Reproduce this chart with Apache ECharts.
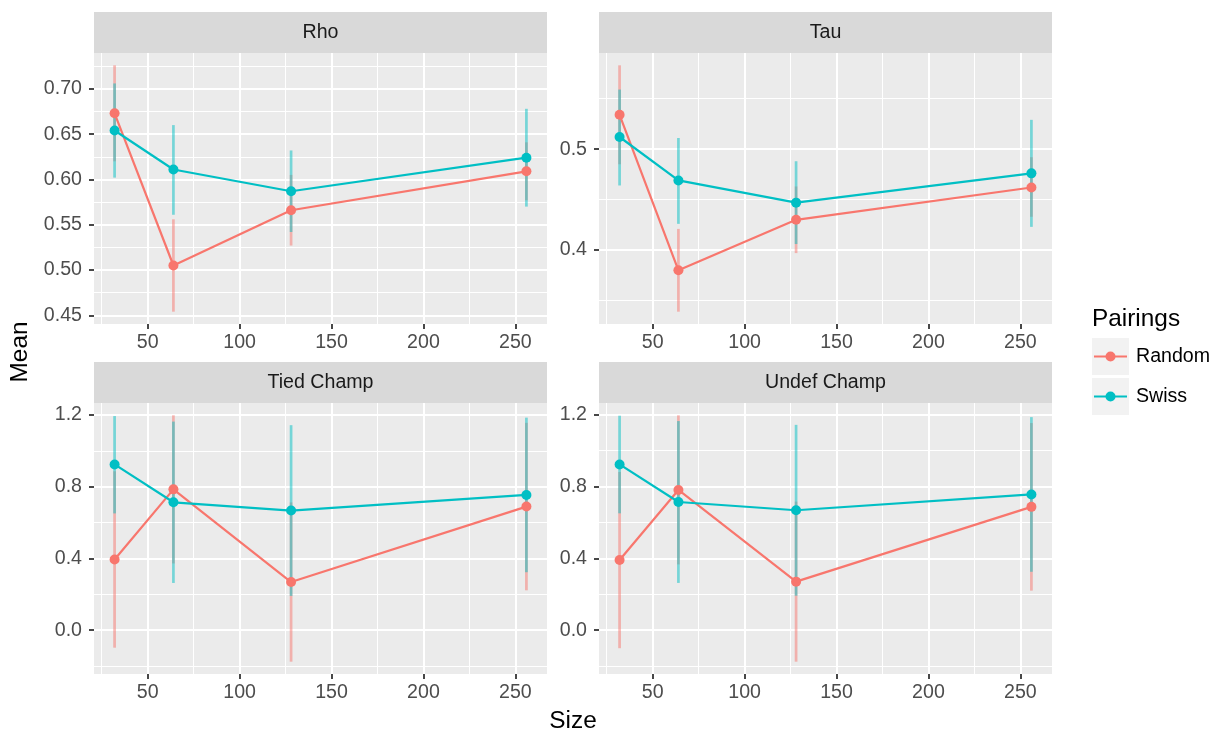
<!DOCTYPE html>
<html><head><meta charset="utf-8">
<script src="https://cdn.jsdelivr.net/npm/echarts@6/dist/echarts.min.js"></script>
<style>html,body{margin:0;padding:0;background:#fff}#c{width:1213px;height:731px}</style>
</head><body><div id="c"></div>
<script>
// ---------- data ----------
const sizes = [32, 64, 128, 256];
const pairings = ['Random', 'Swiss'];
const facetNames = ['Rho', 'Tau', 'Tied Champ', 'Undef Champ'];

const rhoRandomMean = [0.673, 0.505, 0.566, 0.609];
const rhoRandomLow  = [0.620, 0.454, 0.527, 0.577];
const rhoRandomHigh = [0.726, 0.556, 0.605, 0.641];
const rhoSwissMean  = [0.654, 0.611, 0.587, 0.624];
const rhoSwissLow   = [0.602, 0.561, 0.542, 0.570];
const rhoSwissHigh  = [0.706, 0.660, 0.632, 0.678];

const tauRandomMean = [0.534, 0.380, 0.430, 0.462];
const tauRandomLow  = [0.485, 0.339, 0.397, 0.433];
const tauRandomHigh = [0.583, 0.421, 0.463, 0.492];
const tauSwissMean  = [0.512, 0.469, 0.447, 0.476];
const tauSwissLow   = [0.464, 0.426, 0.406, 0.423];
const tauSwissHigh  = [0.559, 0.511, 0.488, 0.529];

const tiedRandomMean = [0.394, 0.785, 0.268, 0.689];
const tiedRandomLow  = [-0.098, 0.372, -0.176, 0.222];
const tiedRandomHigh = [0.886, 1.198, 0.712, 1.156];
const tiedSwissMean  = [0.924, 0.713, 0.667, 0.754];
const tiedSwissLow   = [0.651, 0.263, 0.191, 0.323];
const tiedSwissHigh  = [1.194, 1.163, 1.143, 1.185];

const undefRandomMean = [0.390, 0.780, 0.270, 0.686];
const undefRandomLow  = [-0.100, 0.366, -0.175, 0.220];
const undefRandomHigh = [0.880, 1.195, 0.715, 1.152];
const undefSwissMean  = [0.922, 0.713, 0.667, 0.755];
const undefSwissLow   = [0.650, 0.263, 0.192, 0.325];
const undefSwissHigh  = [1.193, 1.163, 1.142, 1.185];

const xTicks = [50, 100, 150, 200, 250];
const xMinorTicks = [25, 75, 125, 175, 225];
const rhoYTicks = [0.45, 0.50, 0.55, 0.60, 0.65, 0.70];
const rhoYLabels = ['0.45', '0.50', '0.55', '0.60', '0.65', '0.70'];
const rhoYMinor = [0.475, 0.525, 0.575, 0.625, 0.675, 0.725];
const tauYTicks = [0.4, 0.5];
const tauYLabels = ['0.4', '0.5'];
const tauYMinor = [0.35, 0.45, 0.55];
const champYTicks = [0.0, 0.4, 0.8, 1.2];
const champYLabels = ['0.0', '0.4', '0.8', '1.2'];
const champYMinor = [-0.2, 0.2, 0.6, 1.0];

// ---------- assembly ----------
const facets = [
  {name: facetNames[0], random: [rhoRandomMean, rhoRandomLow, rhoRandomHigh], swiss: [rhoSwissMean, rhoSwissLow, rhoSwissHigh], ticks: rhoYTicks, labels: rhoYLabels, minor: rhoYMinor},
  {name: facetNames[1], random: [tauRandomMean, tauRandomLow, tauRandomHigh], swiss: [tauSwissMean, tauSwissLow, tauSwissHigh], ticks: tauYTicks, labels: tauYLabels, minor: tauYMinor},
  {name: facetNames[2], random: [tiedRandomMean, tiedRandomLow, tiedRandomHigh], swiss: [tiedSwissMean, tiedSwissLow, tiedSwissHigh], ticks: champYTicks, labels: champYLabels, minor: champYMinor},
  {name: facetNames[3], random: [undefRandomMean, undefRandomLow, undefRandomHigh], swiss: [undefSwissMean, undefSwissLow, undefSwissHigh], ticks: champYTicks, labels: champYLabels, minor: champYMinor}
];

const FONT = '"Liberation Sans", Arial, Helvetica, sans-serif';
const colors = ['#F8766D', '#00BFC4'];
const errColors = ['rgba(248,118,109,0.5)', 'rgba(0,191,196,0.5)'];
const gridBoxes = [
  {left: 94, top: 53, width: 453, height: 271},
  {left: 599, top: 53, width: 453, height: 271},
  {left: 94, top: 403, width: 453, height: 271},
  {left: 599, top: 403, width: 453, height: 271}
];

function expand(lo, hi) { const d = (hi - lo) * 0.05; return [lo - d, hi + d]; }
const xRange = expand(Math.min(...sizes), Math.max(...sizes));

const grid = [], xAxis = [], yAxis = [], series = [], graphic = [];
facets.forEach((f, i) => {
  const g = gridBoxes[i];
  grid.push(Object.assign({show: true, backgroundColor: '#EBEBEB', borderWidth: 0}, g));
  const allLo = Math.min(...f.random[1], ...f.swiss[1]);
  const allHi = Math.max(...f.random[2], ...f.swiss[2]);
  const yRange = expand(allLo, allHi);
  // major x
  xAxis.push({type: 'value', gridIndex: i, min: xRange[0], max: xRange[1], position: 'bottom',
    axisLine: {show: false, onZero: false},
    axisTick: {show: true, length: 5, lineStyle: {color: '#333333', width: 1.8}, customValues: xTicks},
    axisLabel: {show: true, color: '#4D4D4D', fontSize: 19.6, fontFamily: FONT, margin: 9, customValues: xTicks},
    splitLine: {show: true, lineStyle: {color: '#FFFFFF', width: 2}}
  });
  // minor x
  xAxis.push({type: 'value', gridIndex: i, min: xRange[0], max: xRange[1], position: 'top',
    axisLine: {show: false, onZero: false}, axisTick: {show: false, customValues: xMinorTicks},
    axisLabel: {show: false, customValues: xMinorTicks},
    splitLine: {show: true, lineStyle: {color: '#FFFFFF', width: 1}}
  });
  const labs = f.labels, tks = f.ticks;
  yAxis.push({type: 'value', gridIndex: i, min: yRange[0], max: yRange[1], position: 'left',
    axisLine: {show: false, onZero: false},
    axisTick: {show: true, length: 5, lineStyle: {color: '#333333', width: 1.8}, customValues: tks},
    axisLabel: {show: true, color: '#4D4D4D', fontSize: 19.6, fontFamily: FONT, margin: 12, customValues: tks,
      formatter: v => { const k = tks.findIndex(t => Math.abs(t - v) < 1e-9); return k >= 0 ? labs[k] : ''; }},
    splitLine: {show: true, lineStyle: {color: '#FFFFFF', width: 2}}
  });
  yAxis.push({type: 'value', gridIndex: i, min: yRange[0], max: yRange[1], position: 'right',
    axisLine: {show: false, onZero: false}, axisTick: {show: false, customValues: f.minor},
    axisLabel: {show: false, customValues: f.minor},
    splitLine: {show: true, lineStyle: {color: '#FFFFFF', width: 1}}
  });
  const groups = [f.random, f.swiss];
  // error bars
  groups.forEach((grp, s) => {
    series.push({type: 'custom', name: pairings[s], xAxisIndex: 2 * i, yAxisIndex: 2 * i,
      data: sizes.map((x, k) => [x, grp[1][k], grp[2][k]]),
      encode: {x: 0, y: [1, 2]}, silent: true,
      renderItem: (params, api) => {
        const p1 = api.coord([api.value(0), api.value(1)]);
        const p2 = api.coord([api.value(0), api.value(2)]);
        return {type: 'line', shape: {x1: p1[0], y1: p1[1], x2: p2[0], y2: p2[1]},
          style: {stroke: errColors[s], lineWidth: 2.7}};
      }
    });
  });
  // lines
  groups.forEach((grp, s) => {
    series.push({type: 'line', name: pairings[s], xAxisIndex: 2 * i, yAxisIndex: 2 * i,
      data: sizes.map((x, k) => [x, grp[0][k]]), showSymbol: false, symbol: 'none',
      lineStyle: {color: colors[s], width: 2.2}, itemStyle: {color: colors[s]}, silent: true});
  });
  // points
  groups.forEach((grp, s) => {
    series.push({type: 'scatter', name: pairings[s], xAxisIndex: 2 * i, yAxisIndex: 2 * i,
      data: sizes.map((x, k) => [x, grp[0][k]]), symbolSize: 10,
      itemStyle: {color: colors[s], opacity: 1}, silent: true});
  });
  // strip
  graphic.push({type: 'rect', left: g.left, top: g.top - 41, shape: {width: g.width, height: 41}, style: {fill: '#D9D9D9'}, silent: true});
  graphic.push({type: 'text', x: g.left + g.width / 2, y: g.top - 20.5, silent: true,
    style: {text: f.name, fill: '#1A1A1A', font: '19.6px ' + FONT, textAlign: 'center', textVerticalAlign: 'middle'}});
});

graphic.push({type: 'text', x: 20, y: 352, rotation: Math.PI / 2, silent: true,
  style: {text: 'Mean', fill: '#000000', font: '24.4px ' + FONT, textAlign: 'center', textVerticalAlign: 'middle'}});
graphic.push({type: 'text', x: 573, y: 721, silent: true,
  style: {text: 'Size', fill: '#000000', font: '24.4px ' + FONT, textAlign: 'center', textVerticalAlign: 'middle'}});
graphic.push({type: 'text', x: 1092, y: 319, silent: true,
  style: {text: 'Pairings', fill: '#000000', font: '24.4px ' + FONT, textAlign: 'left', textVerticalAlign: 'middle'}});

function legendIcon(col) {
  const svg = '<svg xmlns="http://www.w3.org/2000/svg" width="37" height="37" viewBox="0 0 37 37">' +
    '<rect x="0" y="0" width="37" height="37" fill="#F2F2F2"/>' +
    '<line x1="2" y1="18.5" x2="35" y2="18.5" stroke="' + col + '" stroke-width="2.2"/>' +
    '<circle cx="18.5" cy="18.5" r="5" fill="' + col + '"/></svg>';
  return 'image://data:image/svg+xml;charset=utf-8,' + encodeURIComponent(svg);
}

const option = {
  animation: false,
  backgroundColor: '#FFFFFF',
  grid, xAxis, yAxis, series, graphic,
  legend: {orient: 'vertical', left: 1092, top: 338, itemWidth: 37, itemHeight: 37, itemGap: 3,
    selectedMode: false, padding: 0,
    data: pairings.map((p, s) => ({name: p, icon: legendIcon(colors[s])})),
    textStyle: {fontSize: 19.6, color: '#000000', fontFamily: FONT, padding: [0, 0, 0, 2]}}
};

const chart = echarts.init(document.getElementById('c'), null, {renderer: 'canvas'});
chart.setOption(option);
</script></body></html>
